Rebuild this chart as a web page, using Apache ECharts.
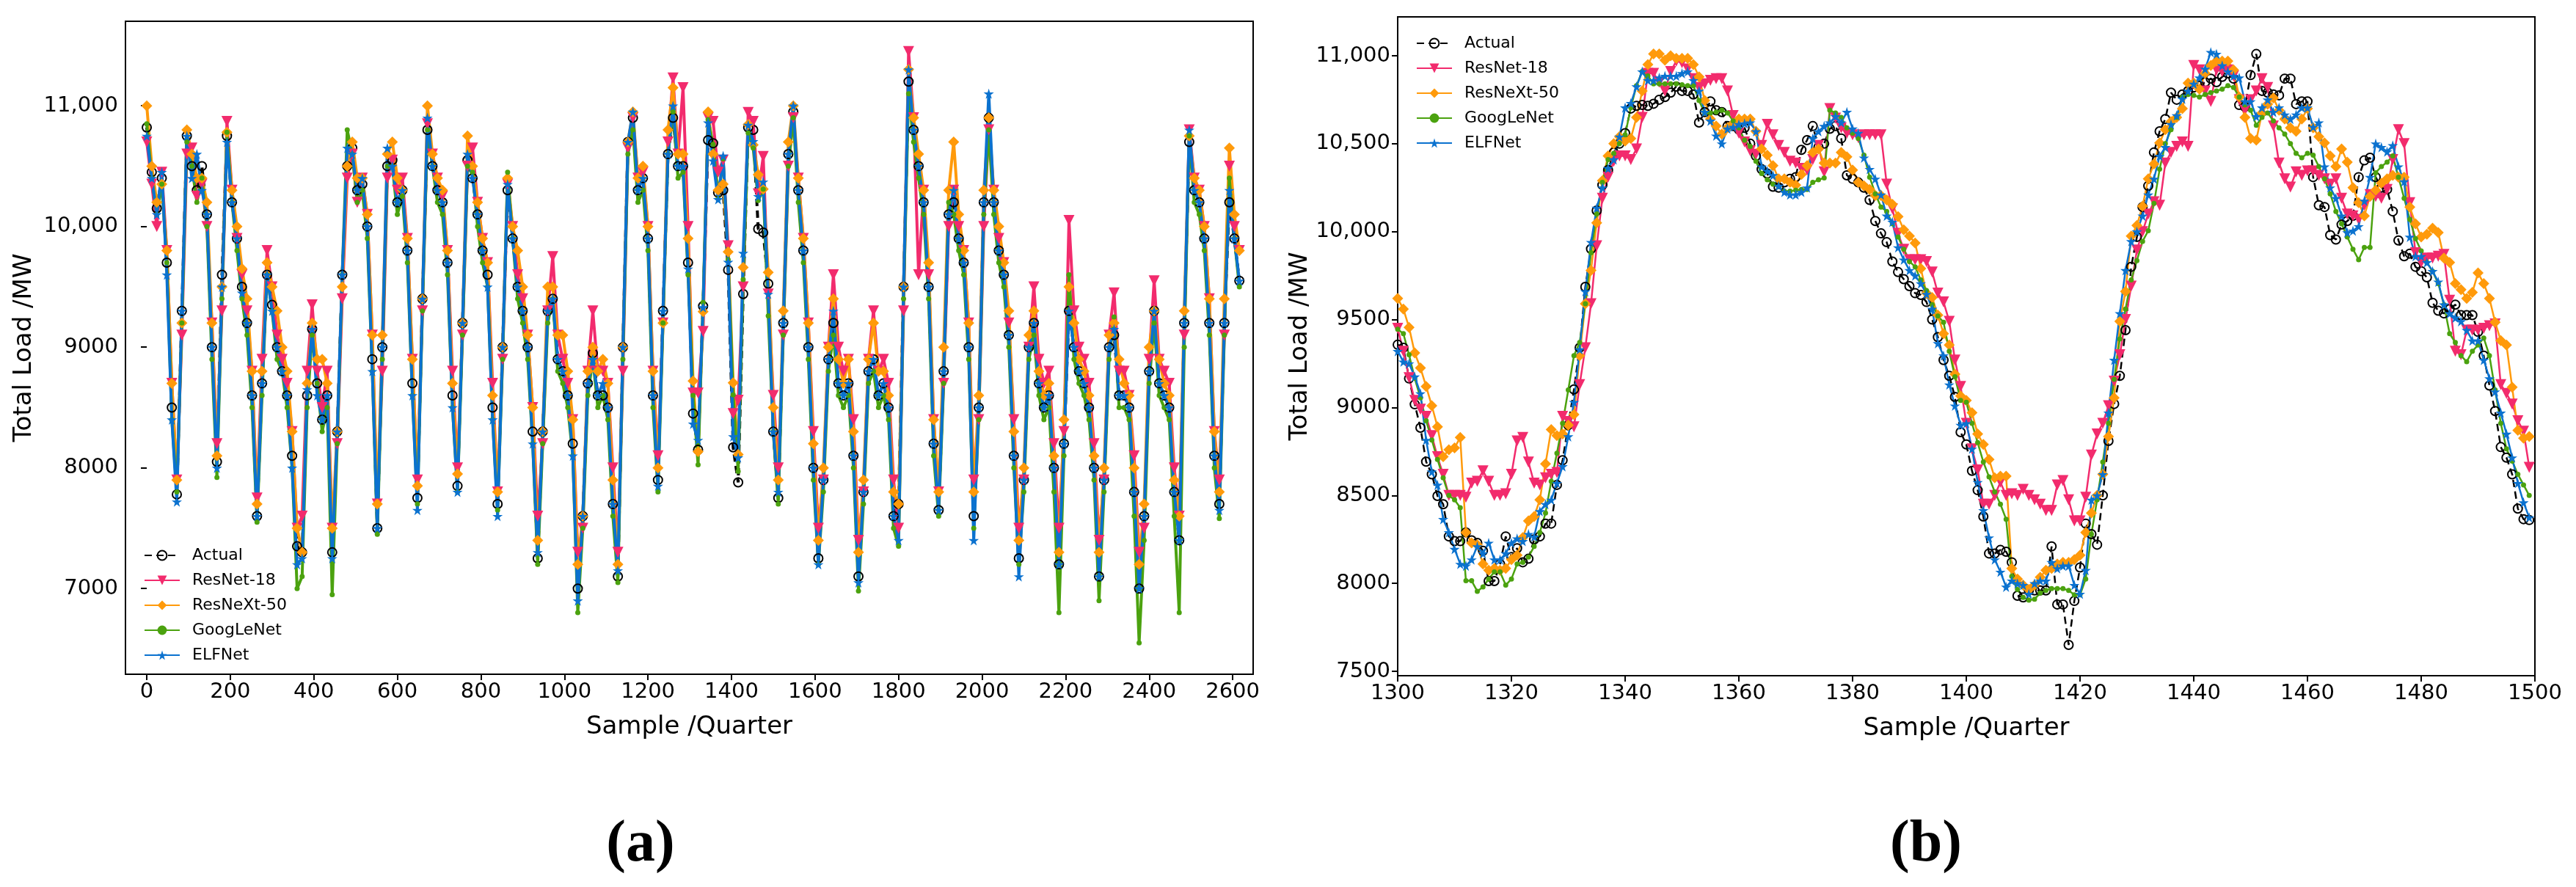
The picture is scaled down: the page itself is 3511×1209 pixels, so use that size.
<!DOCTYPE html>
<html lang="en">
<head>
<meta charset="UTF-8">
<title>Total load: actual vs. forecasts</title>
<style>
  html, body { margin: 0; padding: 0; background: #fff; }
  #chart { width: 3511px; height: 1209px; }
</style>
<script src="https://cdn.jsdelivr.net/npm/echarts@6.0.0/dist/echarts.min.js"></script>
</head>
<body>
<div id="chart"></div>
<script>
  // ---- panel (a): whole test set, read every 12 samples (8 readings per day) ----
  const stepA = 12;
  const actualA = [
    10820,10450,10150,10400,9700,8500,7780,9300,
    10750,10500,10300,10500,10100,9000,8050,9600,
    10750,10200,9900,9500,9200,8600,7600,8700,
    9600,9350,9000,8800,8600,8100,7350,7300,
    8600,9150,8700,8400,8600,7300,8300,9600,
    10500,10650,10300,10350,10000,8900,7500,9000,
    10500,10550,10200,10300,9800,8700,7750,9400,
    10800,10500,10300,10200,9700,8600,7850,9200,
    10550,10400,10100,9800,9600,8500,7700,9000,
    10300,9900,9500,9300,9000,8300,7250,8300,
    9300,9400,8900,8800,8600,8200,7000,7600,
    8700,8950,8600,8600,8500,7700,7100,9000,
    10700,10900,10300,10400,9900,8600,7900,9300,
    10600,10900,10500,10500,9700,8450,8150,9340,
    10715,10690,10280,10300,9640,8170,7880,9440,
    10820,10800,9980,9950,9525,8300,7750,9200,
    10600,10950,10300,9800,9000,8000,7250,7900,
    8900,9200,8700,8600,8700,8100,7100,7800,
    8800,8900,8600,8700,8500,7600,7700,9500,
    11200,10800,10500,10200,9500,8200,7650,8800,
    10100,10200,9900,9700,9000,7600,8500,10200,
    10900,10200,9800,9600,9100,8100,7250,7900,
    9000,9200,8700,8500,8600,8000,7200,8200,
    9300,9000,8800,8700,8500,8000,7100,7900,
    9000,9100,8600,8600,8500,7800,7000,7600,
    8800,9300,8700,8600,8500,7800,7400,9200,
    10700,10300,10200,9900,9200,8100,7700,9200,
    10200,9900,9550
  ];
  const resnet18A = [
    10700,10350,10000,10450,9800,8700,7900,9100,
    10600,10650,10250,10350,10000,9200,8200,9300,
    10870,10300,9900,9600,9300,8800,7750,8900,
    9800,9500,9100,8900,8700,8300,7500,7600,
    8800,9350,8800,8500,8800,7500,8200,9400,
    10400,10600,10200,10400,10100,9100,7700,8800,
    10400,10550,10300,10400,9900,8900,7900,9300,
    10850,10600,10400,10250,9800,8800,8000,9100,
    10500,10650,10200,9900,9700,8700,7800,8900,
    10350,10000,9600,9400,9100,8500,7600,8200,
    9300,9750,9100,8900,8700,8400,7300,7500,
    8800,9300,8800,8800,8700,8000,7300,8800,
    10650,10900,10400,10450,10000,8800,8100,9200,
    10700,11230,10600,11150,10000,8620,8620,9130,
    10900,10870,10450,10550,9840,8450,8560,9500,
    10945,10870,10270,10580,9440,8600,8000,9100,
    10500,10900,10400,9900,9200,8300,7500,7900,
    9000,9600,9000,8800,8900,8400,7400,7800,
    8900,9300,8800,8900,8700,7900,7500,9300,
    11450,10900,9600,10300,9600,8400,7800,8700,
    10000,10300,10000,9800,9200,7900,8400,10000,
    10800,10300,9900,9700,9200,8400,7500,7900,
    9000,9500,8900,8700,8800,8200,7500,8300,
    10050,9300,9000,8900,8700,8200,7400,7900,
    9100,9450,8800,8800,8600,8100,7300,7500,
    8900,9550,8900,8800,8700,8000,7600,9100,
    10800,10400,10300,10000,9400,8300,7900,9100,
    10500,10000,9800
  ];
  const resnext50A = [
    11000,10500,10200,10350,9800,8700,7900,9200,
    10800,10600,10400,10400,10200,9200,8100,9500,
    10780,10300,10000,9650,9400,8800,7700,8800,
    9700,9500,9300,9000,8800,8300,7500,7300,
    8700,9200,8900,8900,8700,7500,8300,9500,
    10500,10700,10400,10400,10100,9100,7700,9100,
    10600,10700,10400,10300,9900,8900,7850,9400,
    11000,10600,10400,10300,9800,8700,7950,9200,
    10750,10500,10200,9900,9700,8600,7800,9000,
    10400,10000,9800,9500,9100,8500,7400,8300,
    9500,9500,9100,9100,8800,8400,7200,7600,
    8800,9000,8800,8900,8700,7900,7200,9000,
    10700,10950,10400,10500,10000,8800,8000,9200,
    10800,11150,10600,10600,9900,8720,8135,9295,
    10950,10600,10300,10350,9790,8705,8110,9660,
    10845,10675,10430,10310,9620,8500,7900,9300,
    10700,11000,10400,9900,9200,8200,7400,8000,
    9000,9400,8900,8700,8900,8300,7300,7900,
    8900,9200,8800,8800,8600,7800,7700,9500,
    11300,10900,10600,10300,9700,8400,7800,9000,
    10300,10700,10100,9800,9200,7800,8600,10300,
    10900,10300,10000,9700,9300,8300,7400,8000,
    9100,9300,8800,8600,8700,8100,7300,8400,
    9500,9200,8900,8800,8600,8100,7300,8000,
    9100,9200,8900,8700,8600,8000,7200,7700,
    9000,9300,8900,8700,8600,7900,7600,9300,
    10750,10400,10300,10000,9400,8300,7800,9400,
    10650,10100,9800
  ];
  const googlenetA = [
    10850,10400,10100,10350,9700,8400,7800,9200,
    10700,10500,10200,10400,10000,8900,7920,9400,
    10780,10200,9800,9400,9100,8500,7550,8600,
    9600,9300,8900,8800,8500,8000,7000,7100,
    8500,9100,8700,8300,8500,6950,8200,9600,
    10800,10600,10200,10300,9900,8800,7450,8900,
    10500,10500,10100,10250,9700,8600,7700,9300,
    10800,10500,10200,10100,9600,8500,7800,9100,
    10500,10450,10000,9700,9500,8400,7650,8900,
    10450,9900,9400,9200,8900,8200,7200,8200,
    9200,9400,8800,8700,8500,8100,6800,7500,
    8600,8900,8500,8600,8400,7600,7050,8900,
    10600,10800,10200,10300,9800,8500,7800,9200,
    10600,10950,10400,10450,9600,8600,8025,9370,
    10885,10680,10230,10560,9725,8605,7970,9560,
    10775,10650,10215,10310,9260,8300,7700,9100,
    10500,10900,10200,9700,8900,7900,7200,7800,
    8800,9100,8600,8500,8600,8000,6980,7700,
    8700,8800,8500,8600,8400,7500,7350,9400,
    11100,10700,10400,10100,9400,8100,7600,8700,
    10200,10100,9800,9600,8900,7500,8400,10100,
    10800,10100,9700,9500,9000,8000,7200,7800,
    8900,9100,8600,8400,8500,7800,6800,8100,
    9600,8900,8700,8600,8400,7900,6900,7800,
    8900,9250,8500,8500,8400,7600,6550,7400,
    8700,9200,8600,8500,8400,7600,6800,9000,
    10750,10200,10100,9800,9100,8000,7580,9100,
    10400,9900,9500
  ];
  const elfnetA = [
    10750,10400,10100,10450,9600,8400,7720,9300,
    10750,10400,10600,10300,10100,9000,8000,9500,
    10700,10200,9900,9450,9200,8600,7600,8700,
    9600,9300,9000,8800,8600,8000,7200,7250,
    8650,9150,8600,8400,8600,7250,8300,9600,
    10650,10600,10300,10400,10000,8800,7500,9000,
    10650,10500,10200,10300,9800,8600,7650,9400,
    10900,10500,10300,10200,9700,8500,7800,9200,
    10600,10400,10100,9800,9500,8400,7600,9000,
    10350,9900,9500,9300,9000,8200,7300,8300,
    9300,9400,8900,8800,8600,8100,6900,7600,
    8700,8900,8600,8700,8500,7700,7150,9000,
    10700,10950,10300,10400,9900,8600,7850,9300,
    10600,11000,10500,10500,9650,8365,8230,9330,
    10860,10545,10225,10585,9705,8260,8085,9780,
    10840,10705,10250,10370,9440,8300,7800,9200,
    10600,11000,10300,9800,9000,8000,7200,7900,
    8900,9300,8700,8600,8700,8100,7050,7800,
    8800,8900,8600,8700,8500,7600,7400,9500,
    11300,10800,10500,10200,9500,8200,7650,8800,
    10100,10300,9900,9700,9000,7400,8500,10200,
    11100,10200,9800,9600,9100,8100,7100,7900,
    9000,9200,8700,8500,8600,8000,7200,8200,
    9300,9000,8800,8700,8500,8000,7100,7900,
    9000,9150,8600,8600,8500,7800,7000,7600,
    8800,9300,8700,8600,8500,7800,7400,9200,
    10800,10300,10200,9900,9200,8100,7650,9200,
    10300,9900,9550
  ];

  // ---- panel (b): samples 1300-1499, every sample ----
  const startB = 1300;
  const actualB = [
    9357,9340,9165,9018,8885,8692,8620,8497,8450,8267,
    8240,8240,8290,8245,8230,8185,8013,8013,8110,8267,
    8150,8200,8120,8140,8250,8267,8340,8340,8560,8700,
    8900,9103,9340,9686,9902,10120,10265,10350,10450,10500,
    10560,10700,10715,10720,10715,10727,10750,10765,10790,10825,
    10800,10800,10780,10620,10680,10740,10690,10680,10600,10600,
    10580,10590,10500,10430,10355,10330,10255,10250,10280,10300,
    10310,10465,10520,10600,10480,10500,10585,10600,10530,10320,
    10300,10280,10250,10180,10060,9990,9940,9830,9770,9730,
    9690,9650,9640,9600,9500,9400,9270,9180,9060,8860,
    8790,8640,8530,8380,8170,8170,8190,8180,8120,7930,
    7920,7960,7960,7960,7960,8210,7880,7880,7650,7900,
    8090,8340,8280,8220,8500,8810,9020,9180,9440,9800,
    9970,10140,10260,10450,10570,10640,10790,10750,10780,10800,
    10820,10830,10850,10870,10850,10880,10900,10870,10720,10710,
    10890,11010,10800,10790,10780,10775,10870,10870,10725,10740,
    10740,10310,10150,10140,9980,9955,10040,10060,10090,10310,
    10405,10420,10310,10250,10240,10115,9950,9860,9875,9800,
    9775,9740,9595,9550,9535,9560,9585,9525,9525,9525,
    9430,9295,9125,8980,8775,8715,8620,8425,8365,8360
  ];
  const resnet18B = [
    9450,9320,9170,9040,8990,8950,8840,8720,8620,8500,
    8500,8500,8490,8570,8580,8640,8580,8500,8500,8510,
    8620,8810,8830,8690,8570,8560,8600,8620,8630,8950,
    8920,8890,9130,9340,9590,9920,10190,10310,10400,10430,
    10430,10410,10470,10650,10900,10900,10850,10800,10910,10970,
    10960,10925,10870,10820,10840,10860,10870,10870,10800,10660,
    10560,10510,10460,10440,10490,10610,10550,10490,10450,10400,
    10390,10360,10350,10410,10490,10340,10700,10645,10590,10560,
    10550,10535,10550,10550,10550,10550,10270,10130,9990,9900,
    9840,9840,9840,9830,9770,9650,9600,9490,9270,9120,
    8910,8765,8645,8450,8450,8500,8575,8500,8510,8500,
    8535,8500,8475,8450,8415,8415,8560,8585,8475,8355,
    8355,8490,8730,8850,8910,9010,9150,9300,9500,9690,
    9895,10000,10100,10170,10150,10390,10450,10485,10510,10485,
    10945,10920,10800,10740,10920,10910,10920,10885,10750,10690,
    10750,10800,10870,10820,10600,10390,10300,10253,10340,10320,
    10345,10345,10320,10300,10270,10300,10190,10100,10090,10070,
    10150,10210,10200,10190,10240,10410,10580,10500,10165,9880,
    9825,9850,9850,9860,9870,9610,9320,9300,9440,9440,
    9440,9450,9465,9475,9130,9080,9020,8925,8865,8660
  ];
  const resnext50B = [
    9620,9560,9455,9310,9225,9120,9010,8890,8720,8760,
    8770,8830,8290,8230,8220,8110,8075,8085,8075,8085,
    8135,8160,8260,8355,8380,8475,8680,8875,8840,8850,
    8900,8960,9295,9590,9780,10050,10290,10430,10500,10540,
    10515,10530,10650,10800,10950,11010,11010,10975,11000,10985,
    10985,10985,10950,10880,10745,10640,10600,10555,10590,10615,
    10640,10640,10640,10570,10470,10435,10375,10300,10300,10280,
    10265,10325,10375,10450,10470,10390,10390,10390,10450,10425,
    10350,10280,10260,10240,10205,10205,10180,10155,10085,10010,
    9975,9935,9790,9650,9625,9525,9420,9355,9190,9065,
    9040,8970,8850,8790,8705,8600,8610,8610,8085,8025,
    7990,7965,7990,8035,8075,8085,8110,8120,8120,8135,
    8160,8290,8400,8500,8620,8835,9055,9490,9660,9975,
    10035,10145,10300,10385,10505,10580,10625,10650,10700,10845,
    10845,10810,10900,10945,10970,10970,10970,10920,10765,10650,
    10530,10520,10675,10725,10760,10690,10640,10590,10570,10640,
    10700,10590,10540,10505,10430,10370,10470,10395,10250,10165,
    10090,10200,10235,10275,10300,10320,10310,10310,10140,10045,
    9970,9985,10020,9995,9850,9825,9705,9670,9620,9655,
    9765,9705,9620,9485,9380,9355,9115,8870,8825,8835
  ];
  const googlenetB = [
    9445,9420,9300,9165,9055,8925,8815,8705,8600,8500,
    8475,8430,8015,8015,7955,7980,8025,8065,8065,7990,
    8025,8110,8120,8150,8210,8290,8400,8580,8740,8910,
    9100,9295,9370,9590,9880,10100,10280,10410,10445,10500,
    10550,10705,10830,10910,10885,10840,10840,10840,10840,10840,
    10835,10830,10830,10745,10675,10675,10680,10690,10675,10630,
    10590,10520,10485,10400,10330,10295,10270,10255,10230,10230,
    10235,10240,10240,10280,10295,10305,10690,10675,10650,10590,
    10560,10530,10435,10310,10215,10140,10115,10045,9970,9900,
    9830,9800,9725,9665,9585,9520,9485,9320,9175,9040,
    9030,8910,8800,8690,8605,8520,8450,8365,8040,7965,
    7920,7905,7910,7945,7960,7970,7970,7970,7960,7935,
    7935,8025,8280,8475,8690,8910,9160,9390,9560,9725,
    9835,9945,10005,10160,10355,10500,10580,10650,10765,10780,
    10775,10765,10780,10790,10800,10810,10830,10820,10765,10720,
    10690,10605,10650,10675,10630,10590,10555,10500,10445,10420,
    10445,10435,10370,10300,10215,10115,10045,9970,9900,9840,
    9910,9910,10335,10370,10395,10430,10310,10190,10070,9960,
    9890,9825,9775,9705,9585,9420,9370,9295,9260,9320,
    9355,9395,9295,9100,8910,8765,8695,8620,8560,8500
  ];
  const elfnetB = [
    9320,9260,9250,9175,9080,8815,8635,8560,8365,8290,
    8195,8110,8100,8135,8210,8170,8230,8135,8135,8170,
    8230,8255,8240,8280,8265,8410,8450,8475,8570,8665,
    8835,9030,9330,9660,9940,10135,10250,10360,10410,10540,
    10705,10730,10825,10910,10860,10860,10875,10885,10885,10885,
    10900,10910,10860,10800,10680,10630,10545,10500,10585,10595,
    10610,10615,10620,10570,10370,10345,10320,10260,10225,10210,
    10210,10225,10250,10530,10570,10600,10620,10655,10620,10680,
    10585,10560,10420,10355,10300,10210,10090,10055,9910,9840,
    9780,9750,9705,9645,9560,9365,9295,9130,9010,8900,
    8910,8765,8575,8415,8260,8135,8065,7980,8015,8000,
    7990,7940,8000,8015,8015,8120,8085,8100,8100,7990,
    7940,8075,8475,8500,8620,8970,9270,9535,9780,9945,
    10000,10090,10210,10300,10430,10480,10610,10660,10755,10800,
    10840,10875,10925,11020,11010,10945,10910,10885,10875,10740,
    10740,10655,10705,10750,10680,10705,10665,10640,10665,10705,
    10705,10595,10620,10370,10250,10190,10090,9995,10005,10030,
    10175,10310,10500,10480,10455,10490,10370,10285,9970,9860,
    9860,9825,9775,9715,9585,9535,9510,9490,9440,9380,
    9380,9270,9165,9090,8970,8850,8715,8570,8460,8375
  ];

  const seriesNames = ['Actual', 'ResNet-18', 'ResNeXt-50', 'GoogLeNet', 'ELFNet'];
  const xTicksA = [0, 200, 400, 600, 800, 1000, 1200, 1400, 1600, 1800, 2000, 2200, 2400, 2600];
  const yTicksA = [7000, 8000, 9000, 10000, 11000];
  const yTicksB = [7500, 8000, 8500, 9000, 9500, 10000, 10500, 11000];

  const FONT = 'DejaVu Sans';
  const STAR = 'path://M50,0 L61,35 L98,35 L68,57 L79,91 L50,70 L21,91 L32,57 L2,35 L39,35 Z';

  const looks = {
    'Actual':     { symbol: 'circle', size: 12, color: '#000000', hollow: true, dash: [10, 6] },
    'ResNet-18':  { symbol: 'triangle', size: 15, color: '#f22b6d', rotate: 180 },
    'ResNeXt-50': { symbol: 'diamond', size: 15, color: '#ff9a0b' },
    'GoogLeNet':  { symbol: 'circle', size: 7, color: '#4ba20f' },
    'ELFNet':     { symbol: STAR, size: 14, color: '#0b72cf' }
  };

  function lineSeries(name, values, xOf, axis, width) {
    const l = looks[name];
    return {
      name: name,
      type: 'line',
      xAxisIndex: axis,
      yAxisIndex: axis,
      data: values.map((v, i) => [xOf(i), v]),
      symbol: l.symbol,
      symbolSize: l.size,
      symbolRotate: l.rotate || 0,
      showAllSymbol: true,
      itemStyle: l.hollow
        ? { color: 'rgba(0,0,0,0)', borderColor: l.color, borderWidth: 2 }
        : { color: l.color },
      lineStyle: { color: l.color, width: width, type: l.dash || 'solid' },
      emphasis: { disabled: true },
      animation: false
    };
  }

  const xA = i => i * stepA;
  const xB = i => startB + i;

  const valuesA = [actualA, resnet18A, resnext50A, googlenetA, elfnetA];
  const valuesB = [actualB, resnet18B, resnext50B, googlenetB, elfnetB];

  // the full-length panel is drawn with heavier strokes, its curves are packed much tighter
  const series = [];
  seriesNames.forEach((n, k) => series.push(lineSeries(n, valuesA[k], xA, 0, 4)));
  seriesNames.forEach((n, k) => series.push(lineSeries(n, valuesB[k], xB, 1, 2.5)));

  const tickStyle = { show: true, length: 8, inside: false, lineStyle: { color: '#000', width: 2 } };
  const labelStyle = { color: '#000', fontFamily: FONT, fontSize: 29, margin: 10 };
  const nameStyle = { color: '#000', fontFamily: FONT, fontSize: 34 };
  const plainFmt = v => String(v);
  const loadFmt = v => (v >= 10000 ? v.toLocaleString('en-US') : String(v));

  const legendBase = {
    data: seriesNames,
    orient: 'vertical',
    itemWidth: 48,
    itemHeight: 16,
    itemGap: 10,
    selectedMode: false,
    textStyle: { color: '#000', fontFamily: FONT, fontSize: 22, lineHeight: 24, padding: [0, 0, 0, 12] }
  };

  const letterTitle = (letter, centre) => ({
    text: '{p|(}{b|' + letter + '}{p|)}', left: centre, top: 1107, textAlign: 'center',
    textStyle: { rich: {
      p: { fontFamily: 'Liberation Serif', fontSize: 80, color: '#000' },
      b: { fontFamily: 'Liberation Serif', fontSize: 80, fontWeight: 'bold', color: '#000' } } }
  });

  const chart = echarts.init(document.getElementById('chart'));
  chart.setOption({
    backgroundColor: '#fff',
    animation: false,
    title: [letterTitle('a', 868), letterTitle('b', 2620)],
    legend: [
      Object.assign({}, legendBase, { left: 191, top: 740 }),
      Object.assign({}, legendBase, { left: 1925, top: 42 })
    ],
    grid: [
      { left: 171, top: 29, width: 1537, height: 890, show: true, borderColor: '#000', borderWidth: 2, backgroundColor: 'transparent' },
      { left: 1905, top: 23, width: 1550, height: 898, show: true, borderColor: '#000', borderWidth: 2, backgroundColor: 'transparent' }
    ],
    xAxis: [
      { type: 'value', gridIndex: 0, min: -51, max: 2649,
        name: 'Sample /Quarter', nameLocation: 'middle', nameGap: 55, nameTextStyle: nameStyle,
        axisLine: { show: false }, splitLine: { show: false },
        axisTick: Object.assign({ customValues: xTicksA }, tickStyle),
        axisLabel: Object.assign({ customValues: xTicksA, formatter: plainFmt }, labelStyle) },
      { type: 'value', gridIndex: 1, min: 1300, max: 1500, interval: 20,
        name: 'Sample /Quarter', nameLocation: 'middle', nameGap: 55, nameTextStyle: nameStyle,
        axisLine: { show: false }, splitLine: { show: false },
        axisTick: tickStyle,
        axisLabel: Object.assign({ formatter: plainFmt }, labelStyle) }
    ],
    yAxis: [
      { type: 'value', gridIndex: 0, min: 6290, max: 11700,
        name: 'Total Load /MW', nameLocation: 'middle', nameGap: 121, nameTextStyle: nameStyle,
        axisLine: { show: false }, splitLine: { show: false },
        axisTick: Object.assign({ customValues: yTicksA }, tickStyle),
        axisLabel: Object.assign({ customValues: yTicksA, formatter: loadFmt }, labelStyle) },
      { type: 'value', gridIndex: 1, min: 7475, max: 11221,
        name: 'Total Load /MW', nameLocation: 'middle', nameGap: 110, nameTextStyle: nameStyle,
        axisLine: { show: false }, splitLine: { show: false },
        axisTick: Object.assign({ customValues: yTicksB }, tickStyle),
        axisLabel: Object.assign({ customValues: yTicksB, formatter: loadFmt }, labelStyle) }
    ],
    series: series
  });
</script>
</body>
</html>
